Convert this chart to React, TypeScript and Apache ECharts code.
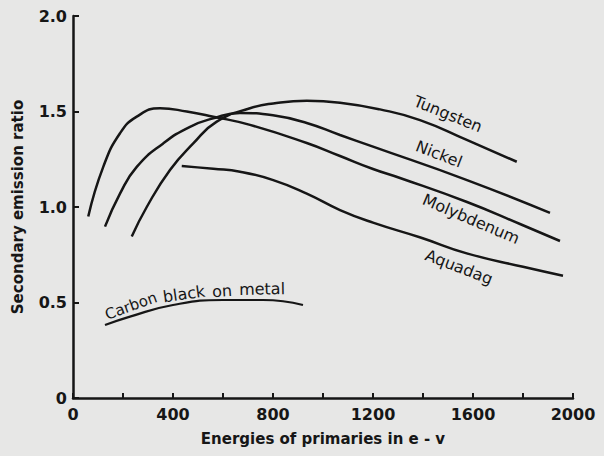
import React, { useEffect, useRef } from "react";
import * as echarts from "echarts";

const tungstenX = [235, 295, 388, 481, 575, 708, 801, 935, 1068, 1228, 1388, 1575, 1775];
const tungstenY = [0.845, 1.0, 1.194, 1.333, 1.447, 1.517, 1.542, 1.556, 1.546, 1.511, 1.455, 1.351, 1.237];

const nickelX = [128, 188, 255, 361, 468, 561, 668, 800, 935, 1068, 1200, 1576, 1908];
const nickelY = [0.897, 1.07, 1.21, 1.333, 1.42, 1.464, 1.492, 1.48, 1.44, 1.377, 1.316, 1.141, 0.969];

const molybdenumX = [61, 121, 188, 255, 348, 455, 561, 708, 935, 1068, 1200, 1308, 1576, 1788, 1948];
const molybdenumY = [0.95, 1.21, 1.386, 1.473, 1.517, 1.5, 1.473, 1.43, 1.335, 1.267, 1.199, 1.152, 1.026, 0.911, 0.822];

const aquadagX = [435, 561, 668, 801, 935, 1068, 1200, 1390, 1575, 1800, 1960];
const aquadagY = [1.215, 1.2, 1.185, 1.141, 1.07, 0.984, 0.918, 0.84, 0.757, 0.687, 0.64];

const carbonX = [128, 228, 400, 600, 760, 920];
const carbonY = [0.382, 0.426, 0.487, 0.513, 0.513, 0.487];

const xTitle = "Energies of primaries in e - v";
const yTitle = "Secondary emission ratio";

const FONT = "DejaVu Sans";
const INK = "#161616";

function pairs(xs: number[], ys: number[]) {
  return xs.map((x, i) => [x, ys[i]]);
}

export default function App() {
  const ref = useRef<HTMLDivElement>(null);
  useEffect(() => {
    document.body.style.margin = "0";
    if (!ref.current) return;
    const chart = echarts.init(ref.current, null, { renderer: "svg" });
    const lineSeries = (name: string, xs: number[], ys: number[], w = 2.5) => ({
      name,
      type: "line",
      data: pairs(xs, ys),
      smooth: 0.5,
      symbol: "none",
      lineStyle: { color: INK, width: w },
    });
    const deg = Math.PI / 180;
    const label = (text: string, x: number, y: number, rotDeg: number, size = 15) => ({
      type: "text",
      x,
      y,
      rotation: rotDeg * deg,
      style: {
        text,
        font: `${size}px "${FONT}"`,
        fill: INK,
        align: "center",
        verticalAlign: "middle",
      },
    });
    chart.setOption({
      animation: false,
      backgroundColor: "#e7e7e6",
      grid: { left: 73, right: 31, top: 16, bottom: 58, outerBoundsMode: "none" },
      xAxis: {
        type: "value",
        min: 0,
        max: 2000,
        interval: 200,
        name: xTitle,
        nameLocation: "middle",
        nameGap: 33,
        nameTextStyle: { fontFamily: FONT, fontSize: 15, fontWeight: "bold", color: INK },
        axisLine: { lineStyle: { color: INK, width: 2.5 } },
        axisTick: { inside: true, length: 5, lineStyle: { color: INK, width: 2 } },
        splitLine: { show: false },
        axisLabel: {
          fontFamily: FONT,
          fontSize: 16,
          fontWeight: "bold",
          color: INK,
          margin: 8,
          formatter: (v: number) => (v % 400 === 0 ? String(v) : ""),
        },
      },
      yAxis: {
        type: "value",
        min: 0,
        max: 2,
        interval: 0.5,
        name: yTitle,
        nameLocation: "middle",
        nameRotate: 90,
        nameGap: 48,
        nameTextStyle: { fontFamily: FONT, fontSize: 15, fontWeight: "bold", color: INK },
        axisLine: { show: true, lineStyle: { color: INK, width: 2.5 } },
        axisTick: { show: true, inside: true, length: 6, lineStyle: { color: INK, width: 2 } },
        splitLine: { show: false },
        axisLabel: {
          fontFamily: FONT,
          fontSize: 16,
          fontWeight: "bold",
          color: INK,
          margin: 6,
          formatter: (v: number) => (v === 0 ? "0" : v.toFixed(1)),
        },
      },
      series: [
        lineSeries("Tungsten", tungstenX, tungstenY),
        lineSeries("Nickel", nickelX, nickelY),
        lineSeries("Molybdenum", molybdenumX, molybdenumY),
        lineSeries("Aquadag", aquadagX, aquadagY),
        lineSeries("Carbon black on metal", carbonX, carbonY, 2.2),
      ],
      graphic: [
        label("Tungsten", 448, 114, -22, 16),
        label("Nickel", 439, 154, -21, 16),
        label("Molybdenum", 471, 219, -23, 16),
        label("Aquadag", 459, 267, -21, 16),
        label("Carbon", 131, 306, 20, 15),
        label("black", 184, 294, 8, 16),
        label("on", 222, 291, 4, 16),
        label("metal", 262, 289, 1, 16),
      ],
    });
    return () => chart.dispose();
  }, []);
  return <div ref={ref} style={{ width: 604, height: 456 }} />;
}
